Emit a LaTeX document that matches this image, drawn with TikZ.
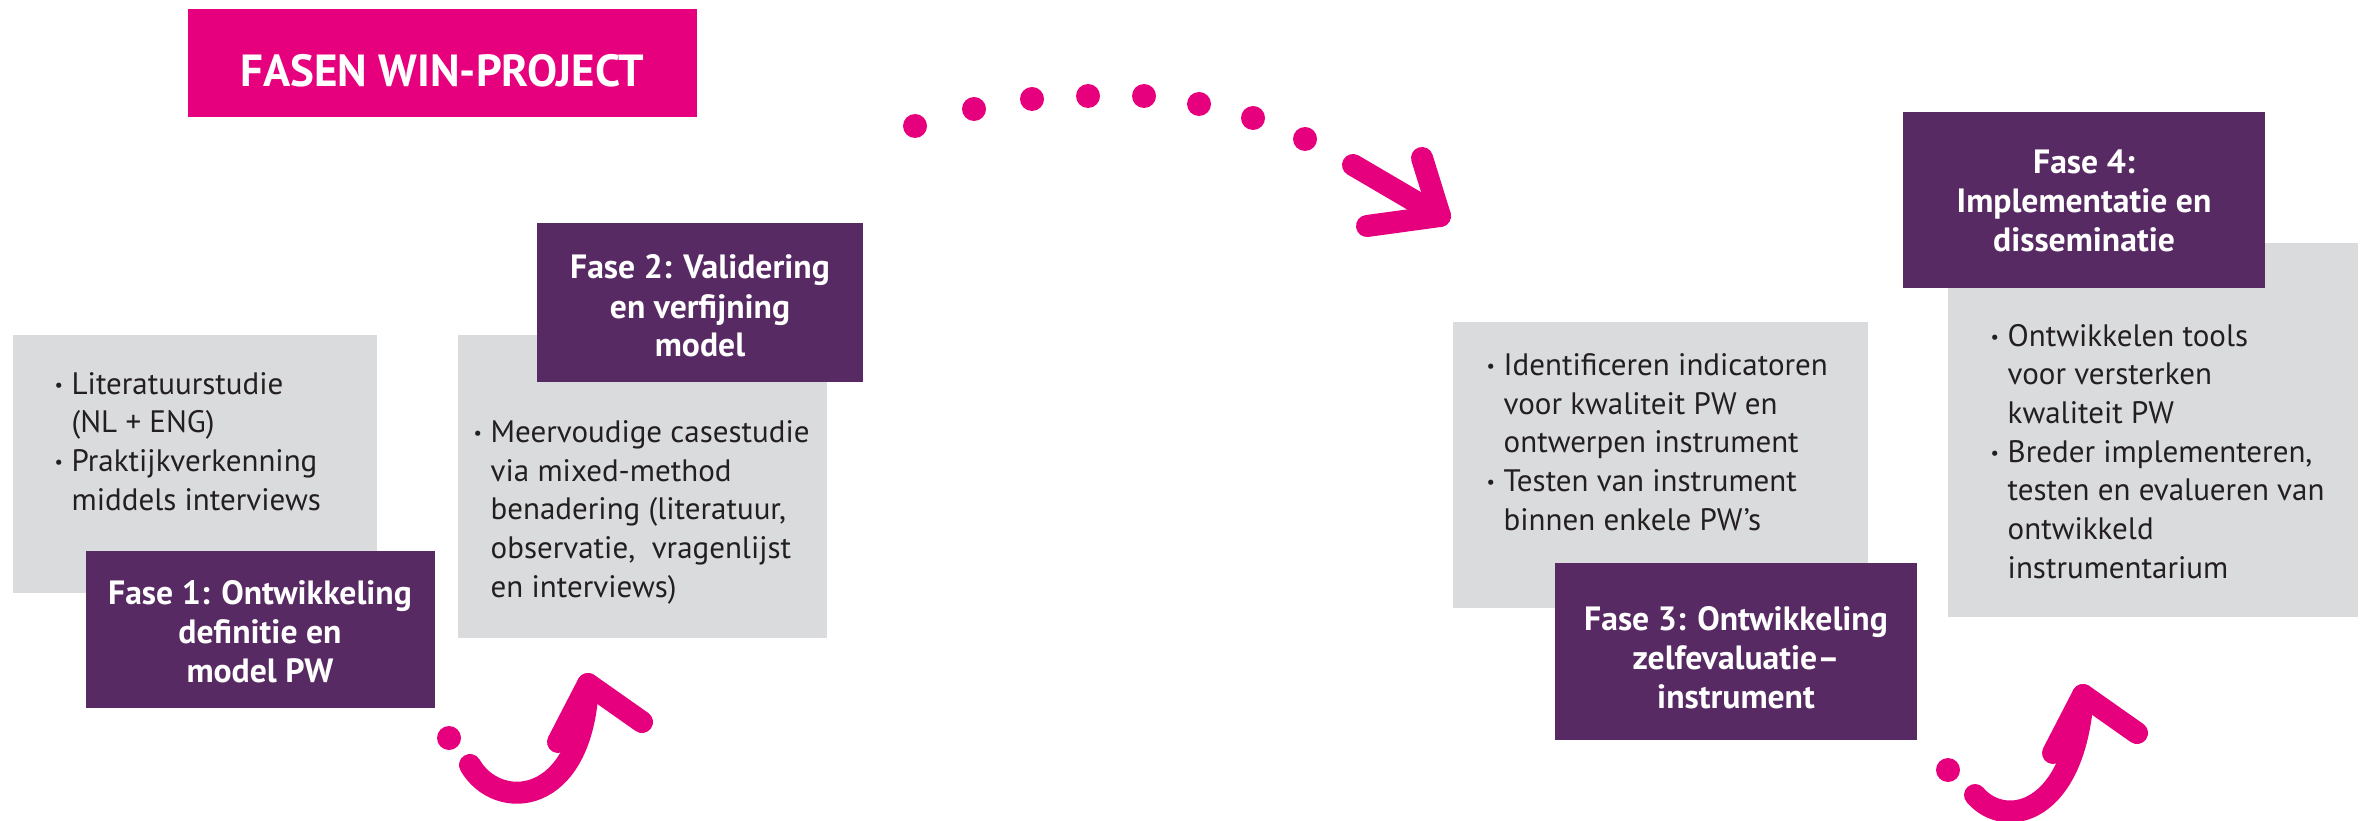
\documentclass[tikz,border=0pt]{standalone}
\usepackage{fontspec}
\setmainfont{PT Sans}
\usepackage{graphicx}
\usepackage{tikz}
\usetikzlibrary{positioning, fit}
\definecolor{winpink}{RGB}{230, 0, 126}
\definecolor{phasepurple}{RGB}{88, 42, 99}
\definecolor{boxgrey}{RGB}{218, 219, 221}
\definecolor{textdark}{RGB}{35, 31, 32}
\newcommand{\bul}{\llap{\raisebox{0.9pt}{\scalebox{0.6}{\textbullet}}\hspace{2.6pt}}}

\begin{document}
\begin{tikzpicture}[x=0.3pt, y=-0.3pt,
    greybox/.style={fill=boxgrey, inner sep=0pt},
    phasebox/.style={fill=phasepurple, inner sep=0pt},
    bodytext/.style={anchor=base west, align=left, inner sep=0pt, text=textdark, font=\fontsize{9.3}{11.6}\selectfont},
    phasetext/.style={anchor=base, align=center, inner sep=0pt, text=white, font=\bfseries\fontsize{10.1}{11.7}\selectfont},
    pinkarrow/.style={draw=winpink, line width=6.6pt, line cap=round, line join=round}]
    \useasboundingbox (0,0) rectangle (2367,821);

    % Title
    \node[fill=winpink, inner sep=0pt, fit={(188,9) (697,117)}] (title) {};
    \node[anchor=base, inner sep=0pt, text=white, font=\bfseries\fontsize{13.5}{16}\selectfont] (titletext) at (442,87) {FASEN WIN-PROJECT};

    % Fase 1 (text placed on its last baseline)
    \node[greybox, fit={(13,335) (377,593)}] (grey1) {};
    \node[bodytext] (list1) at (71,510) {\bul Literatuurstudie\\(NL + ENG)\\\bul Praktijkverkenning\\middels interviews};
    \node[phasebox, fit={(86,551) (435,708)}] (fase1) {};
    \node[phasetext] (fase1text) at (260,682) {Fase 1: Ontwikkeling\\definitie en\\model PW};

    % Fase 2
    \node[greybox, fit={(458,335) (827,638)}] (grey2) {};
    \node[bodytext] (list2) at (490,597) {\bul Meervoudige casestudie\\via mixed-method\\benadering (literatuur,\\observatie,\ \ vragenlijst\\en interviews)};
    \node[phasebox, fit={(537,223) (863,382)}] (fase2) {};
    \node[phasetext] (fase2text) at (700,357) {Fase 2: Validering\\en verfijning\\model};

    % Fase 3
    \node[greybox, fit={(1453,322) (1868,608)}] (grey3) {};
    \node[bodytext] (list3) at (1503,530) {\bul Identificeren indicatoren\\voor kwaliteit PW en\\ontwerpen instrument\\\bul Testen van instrument\\binnen enkele PW’s};
    \node[phasebox, fit={(1555,563) (1917,740)}] (fase3) {};
    \node[phasetext] (fase3text) at (1736,708) {Fase 3: Ontwikkeling\\zelfevaluatie–\\instrument};

    % Fase 4
    \node[greybox, fit={(1948,243) (2358,617)}] (grey4) {};
    \node[bodytext] (list4) at (2007,578) {\bul Ontwikkelen tools\\voor versterken\\kwaliteit PW\\\bul Breder implementeren,\\testen en evalueren van\\ontwikkeld\\instrumentarium};
    \node[phasebox, fit={(1903,112) (2265,288)}] (fase4) {};
    \node[phasetext] (fase4text) at (2084,252) {Fase 4:\\Implementatie en\\disseminatie};

    % Arrow fase 1 -> fase 2
    \coordinate (a1dot) at (449,738);
    \coordinate (a1start) at (470,765);
    \coordinate (a1tip) at (588,684);
    \coordinate (a1left) at (558,742);
    \coordinate (a1right) at (642,722);
    \fill[winpink] (a1dot) circle[radius=12];
    \draw[pinkarrow] (a1start) .. controls (497,812) and (583,808) .. (a1tip);
    \draw[pinkarrow] (a1left) -- (a1tip) -- (a1right);

    % Dotted arrow fase 2 -> fase 3
    \foreach \x/\y in {915/126, 974/109, 1032/99, 1088/96, 1144/96, 1199/104, 1253/118, 1305/139}
        \fill[winpink] (\x,\y) circle[radius=12];
    \coordinate (a2start) at (1353,165);
    \coordinate (a2tip) at (1440,216);
    \coordinate (a2left) at (1367,226);
    \coordinate (a2right) at (1422,158);
    \draw[pinkarrow] (a2start) -- (a2tip);
    \draw[pinkarrow] (a2left) -- (a2tip) -- (a2right);

    % Arrow fase 3 -> fase 4
    \coordinate (a3dot) at (1948,770);
    \coordinate (a3start) at (1975,795);
    \coordinate (a3tip) at (2083,695);
    \coordinate (a3left) at (2053,753);
    \coordinate (a3right) at (2137,733);
    \fill[winpink] (a3dot) circle[radius=12];
    \draw[pinkarrow] (a3start) .. controls (2005,830) and (2075,815) .. (a3tip);
    \draw[pinkarrow] (a3left) -- (a3tip) -- (a3right);
\end{tikzpicture}
\end{document}
